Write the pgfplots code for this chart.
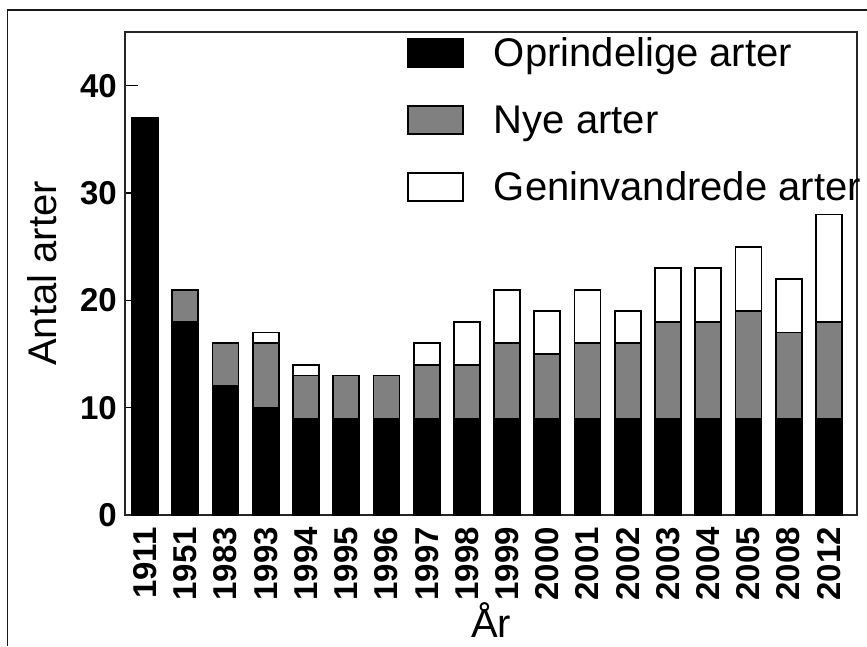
\documentclass[border=0pt]{standalone}
\usepackage{fontspec}
\setmainfont{Liberation Sans}
\usepackage{pgfplots}
\pgfplotsset{compat=1.18}
\usepackage{pgfplotstable}
\definecolor{midgray}{RGB}{128,128,128}
\pgfplotsset{mybox legend/.style={legend image code/.code={\draw[##1] (0pt,-14pt) rectangle (55pt,14pt);}}}

\pgfplotstableread{
x orig new gen
0 37 0 0
1 18 3 0
2 12 4 0
3 10 6 1
4 9 4 1
5 9 4 0
6 9 4 0
7 9 5 2
8 9 5 4
9 9 7 5
10 9 6 4
11 9 7 5
12 9 7 3
13 9 9 5
14 9 9 5
15 9 10 6
16 9 8 5
17 9 9 10
}\datatab

\begin{document}
\begin{tikzpicture}
\begin{axis}[
  at={(0,0)}, anchor=south west,
  scale only axis, width=732pt, height=483pt,
  ybar stacked, bar width=26pt,
  xmin=-0.5, xmax=17.7, ymin=0, ymax=45,
  xtick={0,1,2,3,4,5,6,7,8,9,10,11,12,13,14,15,16,17},
  xticklabels={1911,1951,1983,1993,1994,1995,1996,1997,1998,1999,2000,2001,2002,2003,2004,2005,2008,2012},
  ytick={0,10,20,30,40},
  yticklabels={0,10,20,30,40},
  tick align=inside,
  ytick pos=left, xtick pos=bottom,
  x tick style={draw=none},
  y tick style={black, line width=1.6pt},
  major tick length=13pt,
  axis line style={black!85, line width=1.6pt},
  yticklabel style={font=\fontsize{33}{40}\selectfont\bfseries, inner sep=0pt, xshift=-8pt},
  xticklabel style={font=\fontsize{33}{40}\selectfont\bfseries, inner sep=0pt, yshift=-12pt, rotate=90, anchor=east},
  xlabel={År},
  ylabel={Antal arter},
  label style={font=\fontsize{40}{48}\selectfont},
  xlabel style={at={(axis description cs:0.5,-0.2535)}, anchor=base, inner sep=0pt, text depth=0pt},
  ylabel style={at={(axis description cs:-0.0929,0.5)}, anchor=base},
  legend style={draw=none, fill=none, at={(axis description cs:0.3852,0.9948)}, anchor=north west,
    inner sep=0pt, row sep=31pt, column sep=30pt,
    font=\fontsize{40}{48}\selectfont,
    nodes={inner sep=0pt, text height=32pt, text depth=4pt}},
  legend cell align=left,
]
\addplot[fill=black, draw=black, line width=1.8pt, mybox legend]
  table[x=x, y=orig] {\datatab};
\addlegendentry{Oprindelige arter}
\addplot[fill=midgray, draw=black, line width=1.8pt, mybox legend]
  table[x=x, y=new] {\datatab};
\addlegendentry{Nye arter}
\addplot[fill=white, draw=black, line width=1.8pt, mybox legend]
  table[x=x, y=gen] {\datatab};
\addlegendentry{Geninvandrede arter}
\end{axis}
\draw[black!90, line width=1.4pt] (-117.5pt,-131pt) -- (-117.5pt,505pt) -- (742pt,505pt);
\pgfresetboundingbox
\path[use as bounding box] (-125pt,-131pt) rectangle (742pt,515pt);
\end{tikzpicture}
\end{document}
